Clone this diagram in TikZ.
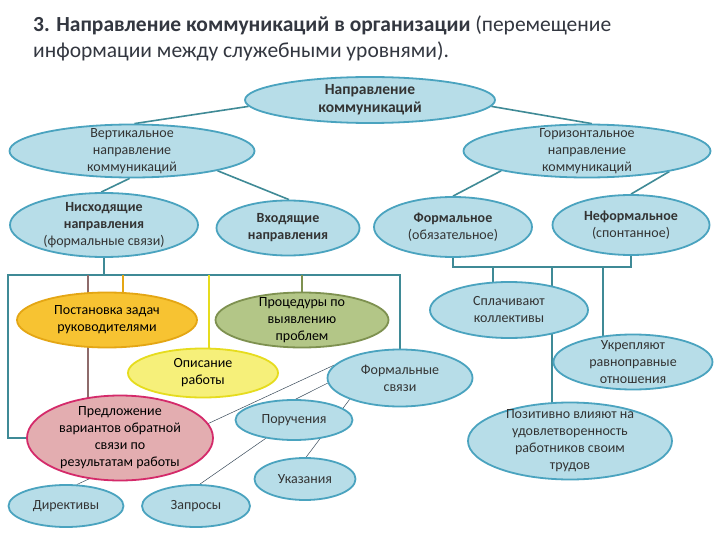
\documentclass[tikz,border=0pt]{standalone}
\usepackage{fontspec}
\setmainfont{Carlito}
\usetikzlibrary{shapes.geometric}
\definecolor{bfill}{HTML}{B7DDE8}
\definecolor{bdraw}{HTML}{4AA3BF}
\definecolor{btext}{HTML}{333333}
\definecolor{titlec}{HTML}{333740}
\definecolor{tealc}{HTML}{3F8A96}
\definecolor{goldf}{HTML}{F7C332}
\definecolor{goldd}{HTML}{E4A614}
\definecolor{olivef}{HTML}{B3C687}
\definecolor{olived}{HTML}{7E9150}
\definecolor{yelf}{HTML}{F6F07A}
\definecolor{yeld}{HTML}{E6DC1E}
\definecolor{pinkf}{HTML}{E3ADB0}
\definecolor{pinkd}{HTML}{D42A6A}
\definecolor{brownc}{HTML}{8E6B6B}
\definecolor{thinc}{HTML}{3A4A5A}
\pgfdeclarelayer{bg}
\pgfsetlayers{bg,main}
\begin{document}
\begin{tikzpicture}[x=1pt,y=-1pt,
  ell/.style={ellipse, line width=1.8pt, inner sep=0pt},
  bl/.style={ell, fill=bfill, draw=bdraw},
  gold/.style={ell, fill=goldf, draw=goldd},
  olive/.style={ell, fill=olivef, draw=olived},
  yel/.style={ell, fill=yelf, draw=yeld},
  pink/.style={ell, fill=pinkf, draw=pinkd},
  txt/.style={align=center, inner sep=0pt, text=btext, font=\fontsize{14}{17}\selectfont},
  txk/.style={txt, text=black},
  bar/.style={draw=tealc, line width=1.6pt},
  thin/.style={draw=thinc, line width=0.5pt}]
\useasboundingbox (0,0) rectangle (720,540);
\node[anchor=base west, inner sep=0pt, text=titlec, font=\fontsize{21.5}{26}\selectfont] (title1) at (33,32)
  {\textbf{3. Направление коммуникаций в организации} (перемещение};
\node[anchor=base west, inner sep=0pt, text=titlec, font=\fontsize{21.5}{26}\selectfont] (title2) at (33,58)
  {информации между служебными уровнями).};

% ellipses
\node[bl, minimum width=250, minimum height=46] (top) at (370,100) {};
\node[txt, font=\fontsize{15.5}{18}\selectfont] (top-t) at (top) {\textbf{Направление}\\\textbf{коммуникаций}};
\node[bl, minimum width=245, minimum height=53] (vert) at (132,151) {};
\node[txt] (vert-t) at (vert) {Вертикальное\\направление\\коммуникаций};
\node[bl, minimum width=247, minimum height=53] (horiz) at (587,151) {};
\node[txt] (horiz-t) at (horiz) {Горизонтальное\\направление\\коммуникаций};
\node[bl, minimum width=188, minimum height=64] (nish) at (104,225) {};
\node[txt] (nish-t) at (nish) {\textbf{Нисходящие}\\\textbf{направления}\\(формальные связи)};
\node[bl, minimum width=143, minimum height=55] (vhod) at (288,228) {};
\node[txt] (vhod-t) at (vhod) {\textbf{Входящие}\\\textbf{направления}};
\node[bl, minimum width=158, minimum height=60] (form) at (453,227) {};
\node[txt] (form-t) at (form) {\textbf{Формальное}\\(обязательное)};
\node[bl, minimum width=157, minimum height=60] (neform) at (631,225) {};
\node[txt] (neform-t) at (neform) {\textbf{Неформальное}\\(спонтанное)};

\node[gold, minimum width=180, minimum height=55] (post) at (107,320) {};
\node[txk] (post-t) at (post) {Постановка задач\\руководителями};
\node[olive, minimum width=173, minimum height=55] (proc) at (302,320) {};
\node[txk] (proc-t) at (proc) {Процедуры по\\выявлению\\проблем};
\node[yel, minimum width=150, minimum height=49] (opis) at (203,373) {};
\node[txk] (opis-t) at (opis) {Описание\\работы};
\node[pink, minimum width=186, minimum height=85] (predl) at (120,438) {};
\node[txk] (predl-t) at (predl) {Предложение\\вариантов обратной\\связи по\\результатам работы};
\node[bl, minimum width=145, minimum height=57] (fsv) at (400,378) {};
\node[txt] (fsv-t) at (fsv) {Формальные\\связи};
\node[bl, minimum width=117, minimum height=40] (poruch) at (294,420) {};
\node[txt] (poruch-t) at (poruch) {Поручения};
\node[bl, minimum width=101, minimum height=42] (ukaz) at (305,479) {};
\node[txt] (ukaz-t) at (ukaz) {Указания};
\node[bl, minimum width=115, minimum height=42] (direkt) at (66,506) {};
\node[txt] (direkt-t) at (direkt) {Директивы};
\node[bl, minimum width=108, minimum height=42] (zapros) at (196,506) {};
\node[txt] (zapros-t) at (zapros) {Запросы};

\node[bl, minimum width=158, minimum height=56] (splach) at (509,310) {};
\node[txt] (splach-t) at (splach) {Сплачивают\\коллективы};
\node[bl, minimum width=159, minimum height=55] (ukr) at (633,362) {};
\node[txt] (ukr-t) at (ukr) {Укрепляют\\равноправные\\отношения};
\node[bl, minimum width=204, minimum height=77] (poz) at (570,441) {};
\node[txt] (poz-t) at (poz) {Позитивно влияют на\\удовлетворенность\\работников своим\\трудов};

% connectors
\coordinate (barL) at (8,275);
\coordinate (barR) at (400,275);
\coordinate (b1) at (88,275);
\coordinate (b2) at (123,275);
\coordinate (b3) at (209,275);
\coordinate (b4) at (302,275);
\coordinate (c1) at (493,267);
\coordinate (c2) at (552,267);
\coordinate (c3) at (603,267);
\begin{pgfonlayer}{bg}
\fill[white] (0,0) rectangle (720,540);
\draw[bar] (top.183) -- (vert.85);
\draw[bar] (top.-3) -- (horiz.80);
\draw[bar] (vert.265) -- (nish.95);
\draw[bar] (vert.-13) -- (vhod.88);
\draw[bar] (horiz.193) -- (form.north);
\draw[bar] (horiz.-14) -- (neform.north);
\draw[bar] (nish.south) -- (nish.south |- barL);
\draw[bar] (predl.west) -- (predl.west -| barL) -- (barL) -- (barR) -- (barR |- fsv.center);
\draw[draw=brownc, line width=1.6pt] (b1) -- (b1 |- predl.center);
\draw[draw=goldd, line width=1.8pt] (b2) -- (b2 |- post.center);
\draw[draw=yeld, line width=1.4pt] (b3) -- (b3 |- opis.center);
\draw[draw=olived, line width=1.6pt] (b4) -- (b4 |- proc.center);
\draw[bar] (form.south) -- (form.south |- c1) -- (neform.south |- c1) -- (neform.south);
\draw[bar, line width=1.2pt] (c1) -- (c1 |- splach.center);
\draw[bar, line width=1.2pt] (c2) -- (c2 |- poz.center);
\draw[bar, line width=1.2pt] (c3) -- (c3 |- ukr.center);
\draw[thin] (fsv.169) -- (direkt.63);
\draw[thin] (fsv.184) -- (poruch.85);
\draw[thin] (fsv.203) -- (ukaz.87);
\draw[thin] (poruch.213) -- (zapros.80);
\end{pgfonlayer}
\end{tikzpicture}
\end{document}
